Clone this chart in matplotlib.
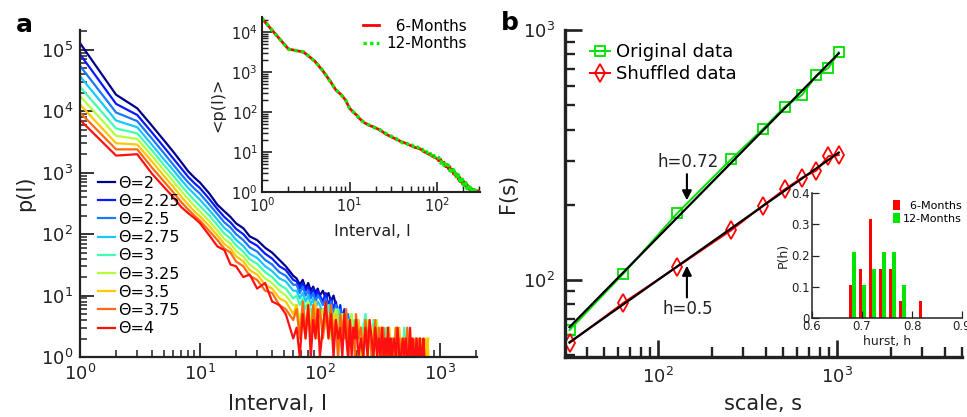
import numpy as np
import matplotlib
matplotlib.use('Agg')
from matplotlib import pyplot as plt
from matplotlib.ticker import LogLocator, NullFormatter, FixedLocator, FixedFormatter

# Panel a: interval distributions p(I) for several thresholds.
thetas = ['2', '2.25', '2.5', '2.75', '3', '3.25', '3.5', '3.75', '4']
theta_colors = ['#00008c', '#0a1aff', '#1a78ff', '#18c8ff', '#40ffb0',
                '#b4ff3c', '#ffc800', '#ff6a10', '#ff1010']

interval_grid = ([1, 2, 3, 4, 5, 6, 7, 8, 9, 10, 12, 14, 16, 18, 20, 23, 26, 30, 35, 40, 46, 52, 60]
                 + list(range(64, 100, 4)) + list(range(100, 200, 6))
                 + list(range(200, 400, 10)) + list(range(400, 820, 15)))

p_theta_2 = [129000, 18600, 11200, 5750, 3390, 2190, 1480, 1050, 832, 692, 457, 300, 235, 190, 150,
             125, 92, 80, 60, 50, 38, 30, 21,
             19, 15, 18, 13, 16, 12, 14, 11, 13, 10, 12, 9, 11, 8, 10, 7]
p_theta_225 = [85100, 13200, 8710, 4470, 2630, 1700, 1175, 851, 676, 562, 372, 255, 190, 155, 122,
               100, 76, 65, 48, 40, 30, 26, 18,
               17, 13, 16, 12, 14, 10, 13, 9, 12, 10, 8, 11, 7, 9, 6, 8, 5, 7, 4, 6, 4]
p_theta_25 = [55000, 9550, 6920, 3550, 2090, 1350, 933, 692, 550, 457, 302, 212, 155, 128, 100,
              80, 61, 52, 38, 32, 24, 21, 15,
              15, 11, 14, 10, 12, 9, 11, 8, 10, 9, 7, 9, 6, 8, 5, 7, 5, 6, 4, 5, 3, 5, 3, 4, 2, 3]
p_theta_275 = [37200, 7080, 5500, 2820, 1660, 1100, 759, 562, 447, 363, 245, 172, 126, 104, 81,
               64, 48, 41, 30, 25, 19, 17, 12,
               12, 9, 11, 8, 10, 7, 9, 6, 8, 7, 5, 7, 4, 6, 5, 4, 6, 3, 5, 4, 3, 4, 2, 4, 3, 2,
               3, 2, 3, 1, 2, 2]
p_theta_3 = [25100, 5250, 4370, 2290, 1350, 891, 617, 457, 355, 288, 200, 140, 102, 85, 66,
             52, 39, 33, 24, 20, 15, 13, 9,
             10, 7, 9, 6, 8, 5, 7, 5, 6,
             5, 6, 4, 7, 3, 5, 4, 6, 3, 4, 5, 3, 4, 2, 5, 3, 4,
             3, 4, 2, 3, 5, 2, 3, 1, 4, 2, 3, 1, 2, 3, 1, 2, 3, 1, 2, 1,
             2, 1, 3, 1, 2, 1, 1, 3, 1, 2, 1]
p_theta_325 = [17800, 3980, 3550, 1860, 1100, 724, 501, 372, 288, 234, 162, 114, 83, 70, 53,
               43, 32, 26, 19, 16, 12, 10, 7,
               7, 4, 6, 3, 8, 4, 5, 3, 6,
               4, 6, 3, 5, 2, 4, 6, 3, 2, 5, 3, 4, 2, 3, 5, 2, 3,
               4, 2, 3, 1, 3, 4, 2, 1, 3, 2, 4, 1, 2, 3, 1, 2, 1, 3, 2, 1,
               2, 1, 3, 1, 1, 2, 1, 2, 1, 1, 2, 1, 1, 2, 1, 1, 2, 1, 1, 1, 2, 1, 1, 2, 1, 1, 2, 2]
p_theta_35 = [12900, 3020, 2880, 1510, 891, 589, 407, 302, 234, 195, 135, 95, 69, 58, 44,
              36, 26, 22, 15, 13, 9, 8, 5,
              7, 3, 5, 2, 6, 3, 4, 8, 2,
              5, 3, 6, 2, 4, 3, 5, 1, 4, 2, 5, 3, 1, 4, 2, 3, 2,
              3, 4, 1, 2, 3, 1, 4, 2, 1, 3, 2, 1, 3, 1, 2, 1, 2, 1, 3, 1,
              1, 2, 1, 1, 3, 1, 2, 1, 1, 2, 1, 1, 2, 1, 1, 1, 2, 1, 1, 2, 1, 1, 1, 2, 1, 1, 2, 1]
p_theta_375 = [9550, 2400, 2400, 1200, 724, 479, 331, 251, 200, 166, 112, 80, 58, 50, 36,
               30, 21, 18, 12, 11, 7, 6, 4,
               6, 2, 8, 3, 5, 2, 7, 3, 4,
               6, 2, 5, 3, 7, 2, 4, 1, 5, 3, 2, 6, 1, 4, 2, 3, 1,
               5, 2, 3, 1, 4, 2, 3, 1, 2, 4, 1, 3, 2, 1, 3, 1, 2, 1, 2, 1,
               2, 1, 3, 1, 2, 1, 1, 2, 1, 3, 1, 1, 2, 1, 1, 2, 1, 1, 2, 1, 1]
p_theta_4 = [7240, 1900, 2000, 955, 589, 398, 275, 219, 182, 151, 95, 63, 55, 32, 30,
             20, 22, 13, 16, 8, 7, 5, 2,
             3, 1, 5, 2, 7, 1, 4, 2, 6,
             1, 3, 8, 2, 5, 1, 4, 2, 3, 1, 5, 2, 1, 4, 1, 3, 2,
             4, 1, 2, 1, 3, 1, 4, 2, 1, 3, 1, 2, 1, 3, 1, 2, 1, 3, 1, 2,
             1, 2, 1, 3, 1, 1, 2, 1, 2, 1, 1, 3, 1, 2, 1, 1, 2, 1, 1, 2, 1, 1, 2, 1]
theta_curves = [p_theta_2, p_theta_225, p_theta_25, p_theta_275, p_theta_3,
                p_theta_325, p_theta_35, p_theta_375, p_theta_4]

# Inset of panel a: averaged distribution, 6 and 12 month windows.
inset_grid = (list(range(1, 21)) + list(range(22, 41, 2)) + list(range(44, 101, 4))
              + list(range(105, 301, 5)))
p_6months = [21900, 3800, 3160, 1900, 1050, 600, 355, 275, 200, 126, 100, 85, 69, 60, 53, 50, 46, 44, 42, 40,
             36, 32, 28, 26, 24, 22.5, 21, 20, 18.6, 17.8,
             16.6, 15.1, 14.1, 13.0, 12.6, 12.0, 11.0, 10.0, 9.5, 8.9, 8.5, 7.9, 7.6, 7.2, 6.9,
             6.0, 6.6, 5.2, 5.6, 4.3, 4.9, 3.8, 4.3, 3.3, 3.7, 2.8, 3.2, 2.4, 2.8, 2.1, 2.4, 1.8, 2.1,
             1.6, 1.9, 1.5, 1.7, 1.35, 1.55, 1.25, 1.4, 1.15, 1.3, 1.1, 1.2, 1.05, 1.15, 1.05, 1.1,
             1.03, 1.08, 1.02, 1.06, 1.0, 1.05]
p_12months = [22400, 3750, 3200, 1880, 1070, 590, 360, 270, 205, 124, 102, 84, 70, 59, 54, 49, 47, 43, 42, 39,
              37, 31, 29.5, 25, 25, 22, 22, 19, 19.5, 17,
              17.5, 14.5, 15.0, 12.4, 13.3, 11.4, 11.8, 9.4, 10.2, 8.4, 9.2, 7.4, 8.2, 6.8, 7.5,
              7.2, 5.3, 6.4, 4.6, 5.4, 4.0, 4.7, 3.4, 4.2, 3.0, 3.6, 2.6, 3.2, 2.2, 2.7, 1.9, 2.4, 1.6,
              2.1, 1.5, 1.8, 1.3, 1.7, 1.2, 1.5, 1.1, 1.35, 1.05, 1.3, 1.02, 1.2, 1.0, 1.15, 1.0,
              1.1, 1.0, 1.08, 1.0, 1.05, 1.0]

# Panel b: fluctuation function.
scales = [32, 64, 128, 256, 384, 512, 640, 768, 896, 1024]
F_original = [63, 106, 185, 304, 401, 494, 551, 659, 705, 815]
F_shuffled = [56, 81, 113, 158, 198, 231, 257, 274, 313, 316]

# Inset of panel b: distribution of hurst exponents.
hurst_bins = [0.68, 0.70, 0.72, 0.74, 0.76, 0.78, 0.80, 0.82]
P_h_6months = [0.105, 0.158, 0.316, 0.158, 0.158, 0.053, 0, 0.053]
P_h_12months = [0.211, 0.105, 0.158, 0.211, 0.211, 0.105, 0, 0]

text_color = '#222222'
fig = plt.figure(figsize=(9.67, 4.17), dpi=100)


def style_axes(ax, lw, size, major_len, minor_len, pad):
    for side in ['top', 'right']:
        ax.spines[side].set_visible(False)
    for side in ['left', 'bottom']:
        ax.spines[side].set_linewidth(lw)
        ax.spines[side].set_color(text_color)
    ax.tick_params(which='major', direction='in', length=major_len, width=lw * 0.8,
                   labelsize=size, pad=pad, colors=text_color)
    ax.tick_params(which='minor', direction='in', length=minor_len, width=lw * 0.7,
                   colors=text_color)


def log_ticks(axis):
    axis.set_major_locator(LogLocator(base=10, numticks=20))
    axis.set_minor_locator(LogLocator(base=10, subs=np.arange(2, 10), numticks=20))
    axis.set_minor_formatter(NullFormatter())


# Plot panel a.
ax_a = fig.add_axes([0.0827, 0.1439, 0.4105, 0.784])
for p, theta, color in zip(theta_curves, thetas, theta_colors):
    ax_a.plot(interval_grid[:len(p)], p, color=color, lw=1.6, label='Θ=' + theta)
ax_a.set_xscale('log')
ax_a.set_yscale('log')
ax_a.set_xlim(1, 2040)
ax_a.set_ylim(1, 2.1e5)
log_ticks(ax_a.xaxis)
log_ticks(ax_a.yaxis)
style_axes(ax_a, 1.6, 13, 10, 5, 5)
ax_a.legend(loc='upper left', bbox_to_anchor=(0.045, 0.555), frameon=False, fontsize=11.5,
            handlelength=1.1, handletextpad=0.15, labelspacing=0.2, borderpad=0, borderaxespad=0)
fig.text(25 / 967, 1 - 193 / 417, 'p(I)', rotation=90, ha='center', va='center',
         fontsize=15, color=text_color)
fig.text(278 / 967, 1 - 404 / 417, 'Interval, I', ha='center', va='center',
         fontsize=15, color=text_color)

# Inset of panel a.
ax_in = fig.add_axes([262 / 967, 1 - 192 / 417, 218 / 967, 175 / 417])
ax_in.plot(inset_grid, p_6months, color='#ff0000', lw=2, label='  6-Months')
ax_in.plot(inset_grid, p_12months, color='#00ee00', lw=2.4, linestyle=(0, (1, 1)),
           label='12-Months')
ax_in.set_xscale('log')
ax_in.set_yscale('log')
ax_in.set_xlim(1, 310)
ax_in.set_ylim(1, 2.4e4)
log_ticks(ax_in.xaxis)
log_ticks(ax_in.yaxis)
style_axes(ax_in, 1.5, 10.5, 7, 4, 3)
ax_in.legend(loc='upper right', bbox_to_anchor=(0.94, 0.99), frameon=False, fontsize=11,
             handlelength=1.0, handletextpad=0.5, labelspacing=0.15, borderpad=0, borderaxespad=0)
fig.text(218 / 967, 1 - 105 / 417, '<p(I)>', rotation=90, ha='center', va='center',
         fontsize=11.5, color=text_color)
fig.text(372 / 967, 1 - 232 / 417, 'Interval, I', ha='center', va='center',
         fontsize=11.5, color=text_color)

# Plot panel b.
ax_b = fig.add_axes([0.5843, 0.1439, 0.4105, 0.784])
ax_b.plot(scales, F_original, '-s', color='#00e000', lw=1.4, ms=7, mfc='none', mew=1.3,
          label='Original data')
ax_b.plot(scales, F_shuffled, '-d', color='#ff0000', lw=1.4, ms=9, mfc='none', mew=1.3,
          label='Shuffled data')
for F in [F_original, F_shuffled]:
    coef = np.polyfit(np.log10(scales), np.log10(F), 1)
    ends = [scales[0], scales[-1]]
    ax_b.plot(ends, 10 ** np.polyval(coef, np.log10(ends)), color='black', lw=1.6)
ax_b.set_xscale('log')
ax_b.set_yscale('log')
ax_b.set_xlim(30.2, 5000)
ax_b.set_ylim(49.2, 1000)
log_ticks(ax_b.xaxis)
log_ticks(ax_b.yaxis)
style_axes(ax_b, 2.4, 13, 12, 7, 7)
ax_b.legend(loc='upper left', bbox_to_anchor=(0.062, 0.96), frameon=False, fontsize=13,
            handlelength=1.15, handletextpad=0.3, labelspacing=0.22, borderpad=0, borderaxespad=0)

ax_b.annotate('', xy=(145, 203), xytext=(145, 272),
              arrowprops=dict(arrowstyle='-|>', color='black', lw=1.5, mutation_scale=14))
ax_b.text(147, 297, 'h=0.72', ha='center', va='center', fontsize=12, color=text_color)
ax_b.annotate('', xy=(145, 117), xytext=(145, 83),
              arrowprops=dict(arrowstyle='-|>', color='black', lw=1.5, mutation_scale=14))
ax_b.text(147, 76.4, 'h=0.5', ha='center', va='center', fontsize=12, color=text_color)

fig.text(508 / 967, 1 - 193 / 417, 'F(s)', rotation=90, ha='center', va='center',
         fontsize=15, color=text_color)
fig.text(763 / 967, 1 - 404 / 417, 'scale, s', ha='center', va='center',
         fontsize=15, color=text_color)

# Inset of panel b: hurst histogram.
ax_h = fig.add_axes([812 / 967, 1 - 318 / 417, 150 / 967, 125 / 417])
ax_h.bar(np.array(hurst_bins) - 0.0035, P_h_6months, width=0.0066, color='#ff0000',
         label='  6-Months')
ax_h.bar(np.array(hurst_bins) + 0.0035, P_h_12months, width=0.0072, color='#00e600',
         label='12-Months')
ax_h.set_xlim(0.6, 0.9)
ax_h.set_ylim(0, 0.4)
ax_h.xaxis.set_major_locator(FixedLocator([0.6, 0.7, 0.8, 0.9]))
ax_h.yaxis.set_major_locator(FixedLocator([0, 0.1, 0.2, 0.3, 0.4]))
ax_h.yaxis.set_major_formatter(FixedFormatter(['0', '0.1', '0.2', '0.3', '0.4']))
style_axes(ax_h, 1.1, 8.5, 5, 3, 1.5)
ax_h.legend(loc='upper right', bbox_to_anchor=(1.0, 0.94), frameon=False, fontsize=8,
            handlelength=0.6, handleheight=1.0, handletextpad=0.3, labelspacing=0.15,
            borderpad=0, borderaxespad=0)
fig.text(783 / 967, 1 - 255 / 417, 'P(h)', rotation=90, ha='center', va='center',
         fontsize=9, color=text_color)
fig.text(887 / 967, 1 - 342 / 417, 'hurst, h', ha='center', va='center',
         fontsize=9, color=text_color)

# Panel letters.
fig.text(24 / 967, 1 - 25 / 417, 'a', ha='center', va='center', fontsize=18, fontweight='bold')
fig.text(510 / 967, 1 - 23 / 417, 'b', ha='center', va='center', fontsize=18, fontweight='bold')

fig.savefig('out.png', dpi=100)
